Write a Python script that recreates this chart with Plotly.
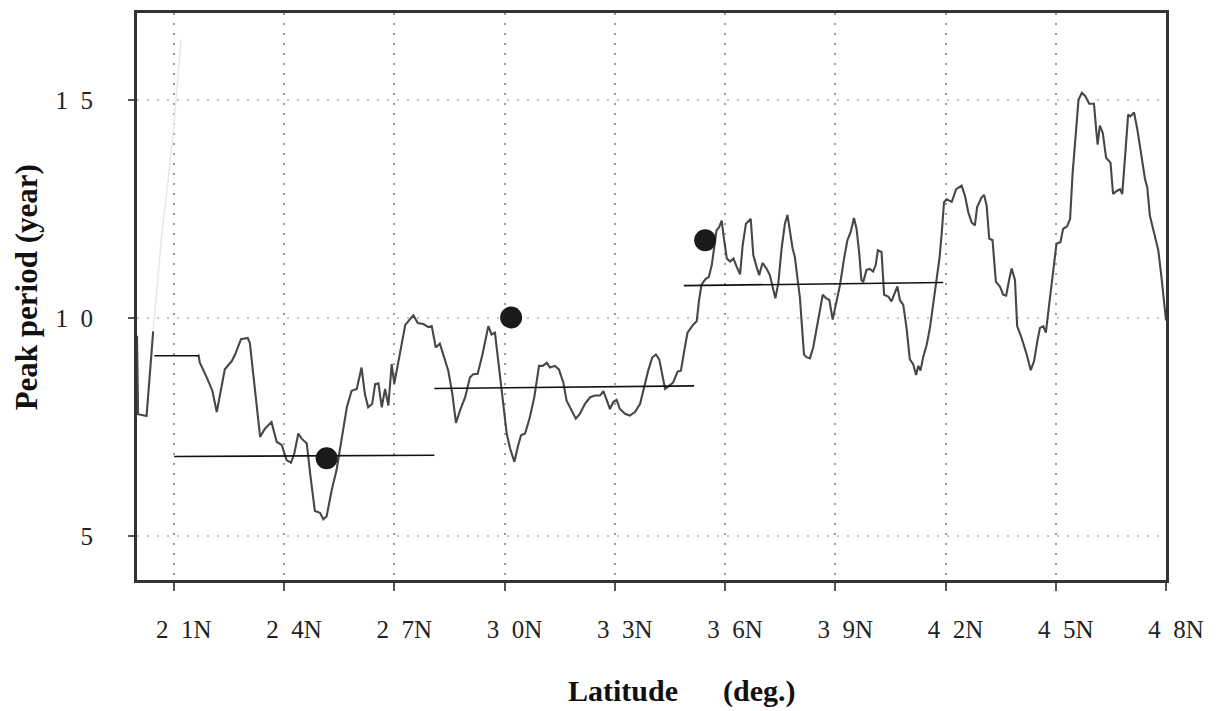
import plotly.graph_objects as go

# ---------------- data ----------------
lat = [20.00, 20.03, 20.26, 20.44, None,
       21.67, 21.71, 21.90, 22.05, 22.17, 22.26, 22.39, 22.58, 22.67, 22.83, 23.01, 23.07,
       23.21, 23.35, 23.48, 23.66, 23.80, 23.94, 24.07, 24.19, 24.28, 24.39, 24.48, 24.62,
       24.71, 24.84, 24.98, 25.07, 25.16, 25.30, 25.43, 25.57, 25.71, 25.84, 25.98, 26.11,
       26.20, 26.29, 26.40, 26.48, 26.57, 26.66, 26.75, 26.84, 26.93, 27.00, 27.08, 27.20,
       27.30, 27.38, 27.52, 27.64, 27.79, 27.93, 28.02, 28.13, 28.24, 28.36, 28.47, 28.58,
       28.68, 28.79, 28.93, 29.06, 29.15, 29.27, 29.40, 29.56, 29.65, 29.74, 29.85, 29.94,
       30.06, 30.15, 30.27, 30.36, 30.45, 30.56, 30.69, 30.81, 30.94, 31.04, 31.15, 31.24,
       31.37, 31.48, 31.60, 31.69, 31.83, 31.94, 32.05, 32.19, 32.33, 32.46, 32.60, 32.69,
       32.78, 32.87, 32.96, 33.05, 33.14, 33.28, 33.41, 33.55, 33.69, 33.80, 33.91, 34.02,
       34.12, 34.21, 34.28, 34.37, 34.48, 34.59, 34.71, 34.80, 34.89, 34.98, 35.14, 35.23,
       35.29, 35.36, 35.47, 35.56, 35.64, 35.70, 35.77, 35.84, 35.91, 35.97, 36.05, 36.14,
       36.23, 36.32, 36.41, 36.48, 36.57, 36.70, 36.77, 36.86, 36.93, 37.02, 37.13, 37.22,
       37.30, 37.37, 37.45, 37.54, 37.63, 37.70, 37.77, 37.84, 37.90, 37.97, 38.04, 38.09,
       38.15, 38.22, 38.31, 38.40, 38.50, 38.59, 38.66, 38.75, 38.84, 38.93, 39.02, 39.13,
       39.24, 39.33, 39.42, 39.51, 39.58, 39.65, 39.71, 39.76, 39.85, 39.94, 40.03, 40.10,
       40.16, 40.26, 40.33, 40.44, 40.53, 40.63, 40.69, 40.76, 40.85, 40.94, 41.03, 41.12,
       41.20, 41.26, 41.32, 41.39, 41.49, 41.58, 41.67, 41.76, 41.84, 41.90, 41.96, 42.03,
       42.17, 42.29, 42.44, 42.53, 42.62, 42.71, 42.80, 42.86, 42.98, 43.05, 43.12, 43.19,
       43.28, 43.37, 43.48, 43.57, 43.65, 43.74, 43.80, 43.89, 43.95, 44.07, 44.21, 44.32,
       44.41, 44.50, 44.57, 44.66, 44.73, 44.82, 44.91, 45.02, 45.13, 45.20, 45.31, 45.39,
       45.46, 45.54, 45.62, 45.71, 45.80, 45.91, 46.04, 46.10, 46.14, 46.20, 46.28, 46.37,
       46.43, 46.49, 46.56, 46.66, 46.75, 46.81, 46.88, 46.97, 47.03, 47.13, 47.22, 47.31,
       47.43, 47.49, 47.56, 47.67, 47.79, 47.88, 47.97, 48.00]

period = [9.60, 7.80, 7.76, 9.70, None,
          9.17, 8.98, 8.64, 8.34, 7.85, 8.27, 8.83, 9.02, 9.17, 9.52, 9.55, 9.44,
          8.42, 7.28, 7.47, 7.62, 7.17, 7.09, 6.75, 6.69, 6.90, 7.36, 7.24, 7.13,
          6.45, 5.58, 5.54, 5.39, 5.46, 6.07, 6.52, 7.20, 7.96, 8.34, 8.38, 8.87,
          8.27, 7.96, 8.04, 8.49, 8.51, 7.96, 8.38, 8.00, 8.95, 8.50, 8.85, 9.40,
          9.85, 9.93, 10.07, 9.89, 9.87, 9.80, 9.82, 9.33, 9.42, 9.10, 8.80, 8.27,
          7.60, 7.89, 8.19, 8.64, 8.72, 8.73, 9.17, 9.82, 9.63, 9.67, 8.87, 8.11,
          7.36, 7.02, 6.71, 7.05, 7.32, 7.36, 7.73, 8.19, 8.91, 8.91, 8.98, 8.87,
          8.91, 8.83, 8.53, 8.11, 7.89, 7.70, 7.81, 8.04, 8.19, 8.23, 8.23, 8.33,
          8.13, 7.92, 8.08, 8.13, 7.92, 7.81, 7.77, 7.85, 8.04, 8.42, 8.80, 9.10,
          9.17, 9.06, 8.72, 8.38, 8.45, 8.53, 8.78, 8.80, 9.25, 9.67, 9.86, 9.93,
          10.39, 10.77, 10.90, 10.95, 11.22, 11.60, 12.02, 12.09, 12.24, 11.83, 11.37, 11.30,
          11.37, 11.18, 11.01, 11.67, 12.17, 12.28, 11.45, 11.18, 10.99, 11.27, 11.14, 10.99,
          10.69, 10.46, 10.80, 11.60, 12.17, 12.37, 11.98, 11.60, 11.41, 10.92, 10.46, 9.86,
          9.17, 9.11, 9.08, 9.33, 9.78, 10.27, 10.54, 10.46, 10.42, 9.97, 10.31, 10.77,
          11.37, 11.79, 11.98, 12.30, 12.05, 11.52, 10.88, 10.83, 11.11, 11.13, 11.07, 11.22,
          11.56, 11.52, 10.54, 10.50, 10.39, 10.61, 10.73, 10.42, 10.31, 9.78, 9.06, 8.95,
          8.70, 8.91, 8.80, 9.10, 9.40, 9.80, 10.39, 10.92, 11.40, 11.98, 12.66, 12.73,
          12.67, 12.96, 13.04, 12.81, 12.43, 12.20, 12.13, 12.55, 12.77, 12.83, 12.58, 11.83,
          11.79, 10.84, 10.73, 10.54, 10.52, 10.92, 11.14, 10.88, 9.82, 9.55, 9.17, 8.81,
          9.02, 9.48, 9.78, 9.82, 9.67, 10.31, 10.99, 11.71, 11.75, 12.05, 12.11, 12.28,
          13.34, 14.10, 15.01, 15.17, 15.10, 14.92, 14.92, 14.33, 13.98, 14.42, 14.25, 13.68,
          13.63, 13.57, 12.85, 12.92, 12.96, 12.85, 13.64, 14.67, 14.63, 14.72, 14.33, 13.87,
          13.19, 13.00, 12.36, 11.98, 11.56, 10.92, 10.05, 9.95]

# faint (washed-out) rising stroke near 21N
faint_lat = [20.44, 20.55, 20.67, 20.84, 21.00, 21.10, 21.20]
faint_period = [9.70, 10.80, 11.90, 13.10, 14.40, 15.40, 16.40]

# regional mean levels (start/end latitude, start/end value)
mean_lat = [[20.47, 21.69], [21.01, 28.09], [28.09, 35.16], [34.88, 41.94]]
mean_val = [[9.14, 9.14], [6.83, 6.86], [8.39, 8.45], [10.75, 10.82]]

# marked points
dot_lat = [25.16, 30.18, 35.46]
dot_val = [6.79, 10.02, 11.79]

x_ticks = [21, 24, 27, 30, 33, 36, 39, 42, 45, 48]
x_labels = ["2\u20021N", "2\u20024N", "2\u20027N", "3\u20020N", "3\u20023N",
            "3\u20026N", "3\u20029N", "4\u20022N", "4\u20025N", "4\u20028N"]
y_ticks = [5, 10, 15]
y_labels = ["5", "1\u20020", "1\u20025"]

x_title = "<b>Latitude\u2003\u2002(deg.)</b>"
y_title = "<b>Peak period (year)</b>"

# ---------------- figure ----------------
fig = go.Figure()

fig.add_trace(go.Scatter(x=faint_lat, y=faint_period, mode="lines",
                         line=dict(color="#e8e8e8", width=1.5), hoverinfo="skip",
                         showlegend=False))

fig.add_trace(go.Scatter(x=lat, y=period, mode="lines", connectgaps=False,
                         line=dict(color="#474747", width=2.1), showlegend=False))

for xs, ys in zip(mean_lat, mean_val):
    fig.add_trace(go.Scatter(x=xs, y=ys, mode="lines",
                             line=dict(color="#111111", width=1.6), showlegend=False))

fig.add_trace(go.Scatter(x=dot_lat, y=dot_val, mode="markers",
                         marker=dict(color="#1a1a1a", size=22, line=dict(width=0)),
                         showlegend=False))

serif = "Liberation Serif, Times New Roman, serif"

fig.update_layout(
    width=1219, height=711,
    margin=dict(l=137, r=53, t=10, b=131),
    paper_bgcolor="white", plot_bgcolor="white",
    font=dict(family=serif, color="#222222"),
    xaxis=dict(
        range=[20, 48], tickvals=x_ticks, ticktext=x_labels,
        tickfont=dict(size=25, family=serif, color="#222"),
        ticks="outside", ticklen=8, tickwidth=2, tickcolor="#555",
        ticklabelstandoff=17, ticklabelshift=10,
        showgrid=True, gridcolor="#9a9a9a", griddash="2px,8px", gridwidth=1.6,
        showline=True, mirror=True, linecolor="#333333", linewidth=3,
        zeroline=False,
    ),
    yaxis=dict(
        range=[4, 17], tickvals=y_ticks, ticktext=y_labels,
        tickfont=dict(size=25, family=serif, color="#222"),
        ticks="outside", ticklen=6, tickwidth=2, tickcolor="#555",
        ticklabelstandoff=30,
        showgrid=True, gridcolor="#c4c4c4", griddash="2px,8px", gridwidth=1.6,
        showline=True, mirror=True, linecolor="#333333", linewidth=3,
        zeroline=False,
    ),
    annotations=[
        dict(text=x_title, xref="paper", yref="paper", x=0.53, y=-0.196,
             xanchor="center", yanchor="middle", showarrow=False,
             font=dict(size=30, family=serif, color="#111")),
        dict(text=y_title, xref="paper", yref="paper", x=-0.107, y=0.516,
             xanchor="center", yanchor="middle", textangle=-90, showarrow=False,
             font=dict(size=31, family=serif, color="#111")),
    ],
)

fig.write_html("out.html")
